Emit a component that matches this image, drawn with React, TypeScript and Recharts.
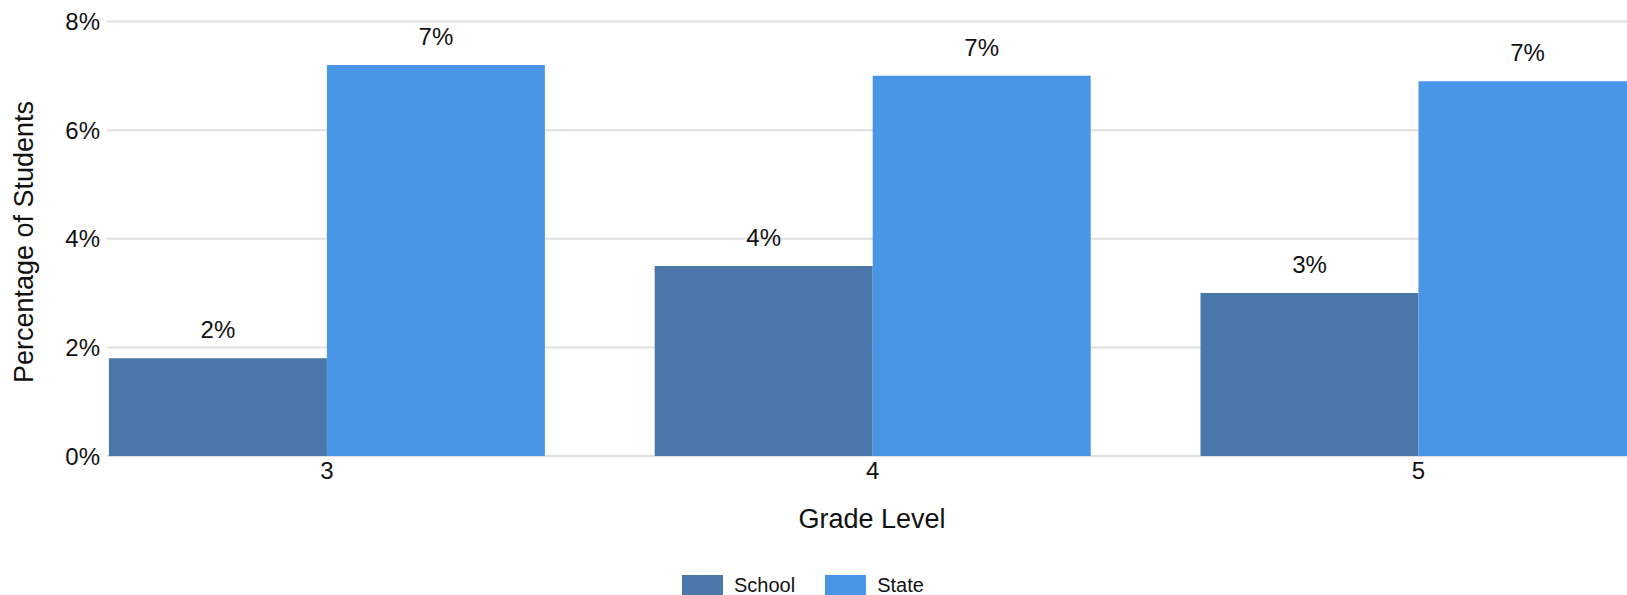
import React from 'react';
import { BarChart, Bar, XAxis, YAxis, CartesianGrid, Legend, LabelList, Label } from 'recharts';

const grades = ['3', '4', '5'];
const schoolValues = [1.8, 3.5, 3.0];
const stateValues = [7.2, 7.0, 6.9];
const yTicks = [0, 2, 4, 6, 8];
const seriesNames = ['School', 'State'];
const seriesColors = ['#4a76a9', '#4a96e6'];

const data = grades.map((g, i) => ({ grade: g, School: schoolValues[i], State: stateValues[i] }));

const FONT = "Arial, 'Liberation Sans', sans-serif";
const TEXT = '#111';

const LegendContent = () => (
  <div style={{ display: 'flex', alignItems: 'center', height: 26, paddingTop: 5, boxSizing: 'border-box', fontFamily: FONT, fontSize: 20, color: TEXT, lineHeight: '20px' }}>
    {seriesNames.map((n, i) => (
      <div key={n} style={{ display: 'flex', alignItems: 'center', marginRight: i === 0 ? 30 : 0 }}>
        <div style={{ width: 41, height: 20, background: seriesColors[i], marginRight: 11 }} />
        <span>{n}</span>
      </div>
    ))}
  </div>
);

const XTitle = () => (
  <text x={872} y={519} textAnchor="middle" dominantBaseline="central" fontFamily={FONT} fontSize={27} fill={TEXT}>
    Grade Level
  </text>
);

const YTitle = () => (
  <text x={24} y={242} transform="rotate(-90 24 242)" textAnchor="middle" dominantBaseline="central" fontFamily={FONT} fontSize={27} fill={TEXT}>
    Percentage of Students
  </text>
);

const pct = (v: number) => `${Math.round(v)}%`;

export default function App() {
  return (
    <div style={{ position: 'absolute', left: 0, top: 0, width: 1627, height: 595, overflow: 'hidden', background: '#fff' }}>
      <BarChart
        width={1627}
        height={595}
        data={data}
        margin={{ top: 21.5, right: 0, bottom: 0, left: 0 }}
        barCategoryGap={54.9}
        barGap={0}
      >
        <CartesianGrid horizontal vertical={false} stroke="#e0e0e0" strokeWidth={2} />
        <XAxis
          dataKey="grade"
          height={113}
          tickLine={false}
          axisLine={false}
          tickSize={0}
          tickMargin={6}
          padding={{ left: -53, right: -64.4 }}
          tick={{ fontSize: 24, fill: TEXT, fontFamily: FONT }}
        >
          <Label content={<XTitle />} />
        </XAxis>
        <YAxis
          width={107}
          domain={[0, 8]}
          ticks={yTicks}
          tickFormatter={(v: number) => `${v}%`}
          tickLine={false}
          axisLine={false}
          tickSize={0}
          tickMargin={7}
          tick={{ fontSize: 24, fill: TEXT, fontFamily: FONT }}
        >
          <Label content={<YTitle />} />
        </YAxis>
        <Legend
          verticalAlign="bottom"
          content={<LegendContent />}
          wrapperStyle={{ left: 682, bottom: 0, width: 'auto', height: 26 }}
        />
        {seriesNames.map((n, i) => (
          <Bar key={n} dataKey={n} fill={seriesColors[i]} isAnimationActive={false}>
            <LabelList dataKey={n} position="top" offset={20} formatter={pct} style={{ fontSize: 24, fill: TEXT, fontFamily: FONT }} />
          </Bar>
        ))}
      </BarChart>
    </div>
  );
}
